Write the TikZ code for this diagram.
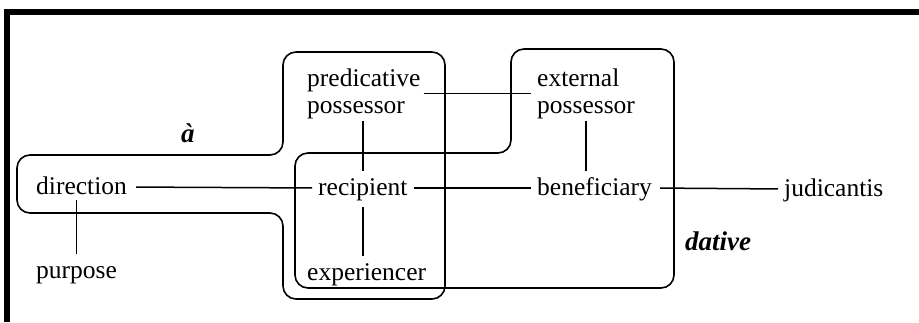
\documentclass[tikz,border=0pt]{standalone}
\usepackage{fontspec}
\setmainfont{Liberation Serif}
\begin{document}
\begin{tikzpicture}[x=1pt,y=-1pt,
  lbl/.style={inner sep=0pt, anchor=base west, text height=18pt, text depth=4pt,
              font=\fontsize{25.5}{27}\selectfont},
  lbl2/.style={inner sep=0pt, anchor=west, align=left,
              font=\fontsize{25.5}{27}\selectfont},
  group/.style={line width=1.6pt, rounded corners=13pt},
  link/.style={line width=1.5pt, shorten >=6pt, shorten <=6pt},
  tag/.style={inner sep=0pt, anchor=base west, font=\fontsize{27}{30}\selectfont\bfseries\itshape}]
\useasboundingbox (0,0) rectangle (919,322);
% frame
\fill[black] (4,9) rectangle (919,15);
\fill[black] (4,9) rectangle (10,322);
% group outlines
\draw[group] (17,155) -- (283,155) -- (283,52) -- (445,52) -- (445,299) -- (283,299) -- (283,213) -- (17,213) -- cycle;
\draw[group] (295,153) -- (511,153) -- (511,49) -- (674,49) -- (674,288) -- (295,288) -- cycle;
% nodes
\node[lbl2] (pred) at (307,93.5) {predicative\\possessor};
\node[lbl2] (ext) at (537,93.5) {external\\possessor};
\node[lbl] (dir) at (36,194) {direction};
\node[lbl] (purp) at (36,278) {purpose};
\node[lbl] (rec) at (318,195) {recipient};
\node[lbl] (exp) at (307,280) {experiencer};
\node[lbl] (ben) at (537,195) {beneficiary};
\node[lbl] (jud) at (784,196) {judicantis};
\node[tag] (a) at (181,142) {à};
\node[tag] (dat) at (685,250) {dative};
% connectors
\draw[link, shorten <=9pt] (dir.east) -- (rec.west);
\draw[link] (rec.east) -- (ben.west);
\draw[link, shorten <=8pt] (ben.east) -- (jud.west);
\draw[link, shorten <=3pt] (pred.east) -- (ext.west);
\draw[link, shorten >=2pt] (rec.north) -- (rec.north |- pred.south);
\draw[link, shorten <=8pt] (rec.south) -- (rec.south |- exp.north);
\draw[link, shorten >=2pt] (ben.north -| ext.south) -- (ext.south);
\draw[link, shorten <=2pt] (dir.south -| purp.north) -- (purp.north);
\end{tikzpicture}
\end{document}
